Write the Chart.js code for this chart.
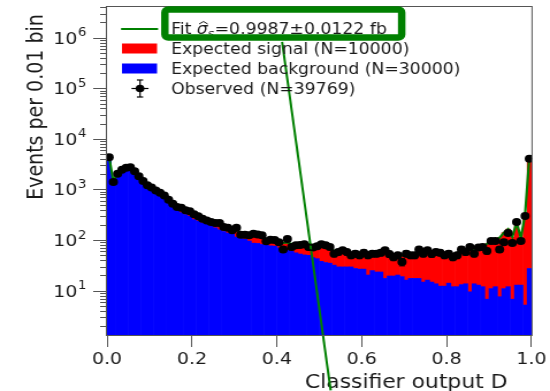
<!DOCTYPE html>
<html>
<head>
<meta charset="utf-8">
<script src="https://cdn.jsdelivr.net/npm/chart.js@4.4.0/dist/chart.umd.min.js"></script>
<style>
  html, body { margin: 0; padding: 0; background: #fff; overflow: hidden; }
  /* the original figure is stretched sideways, so draw narrower and stretch */
  #wrap { position: absolute; left: 0; top: 0; width: 478px; height: 391px;
          transform: scaleX(1.1506); transform-origin: 0 0; }
</style>
</head>
<body>
<div id="wrap"><canvas id="chart"></canvas></div>
<script>
// histogram: 100 bins of width 0.01 over classifier output D
var binWidth = 0.01;
var nBins = 100;

var observed = [
  4360,1400,2050,2460,2700,2760,2300,1820,1470,1210,
  1090,955,860,760,630,525,450,435,387,370,
  323,295,264,245,227,217,217,181,176,156,
  176,128,128,124,134,129,124,95,102,100,
  91,65,105,73,79,80,83,73,71,76,
  83,79,73,54,58,63,58,50,54,50,
  56,50,54,54,56,63,53,46,50,37,
  54,50,50,65,54,63,53,58,56,50,
  54,46,50,65,58,73,54,71,73,61,
  96,96,65,91,138,88,227,96,299,4070
];

var expBackground = [
  4150,1400,1980,2380,2620,2620,2220,1780,1420,1180,
  1040,915,815,715,600,500,410,350,320,295,
  255,238,220,205,190,175,160,148,138,130,
  115,108,104,96,87,86,82,79,77,76,
  70,66,63,60,56,53,51,50,45,43,
  38,36,35,32,29.5,29.5,29.5,29.5,27.5,26.7,
  26.7,20.4,25,23.4,23.4,17.5,19.5,19.5,20.4,19,
  16.2,17.5,17.5,17.5,14.8,16.2,14.8,13.7,12.3,12.3,
  14.1,12,12,13.2,13.7,9.5,13.7,12.9,12,6.8,
  11,12,7.6,11,12,6.8,12.9,12.9,5.2,27.5
];

var expSignal = [
  150,50,70,70,80,80,80,70,60,50,
  50,45,45,45,40,40,55,80,70,65,
  70,57,48,43,38,40,45,40,38,33,
  43,32,28,30,41,39,36,27,27,22,
  24,22,27,24,24,27,28,26,29,32,
  38,39,35,30,31.5,30.5,28.5,24.5,27.5,26.3,
  27.3,31.6,29,30.6,31.6,38.5,33.5,32.5,31.6,31,
  35.8,36.5,37.5,40.5,41.2,41.8,41.2,44.3,44.7,42.7,
  45.9,40,44,50.8,48.3,56.5,48.3,57.1,61,77.2,
  87,88,104.4,129,153,108.2,212.1,97.1,314.8,4272.5
];

var fitTotal = [
  4300,1450,2050,2450,2700,2700,2300,1850,1480,1230,
  1090,960,860,760,640,540,465,430,390,360,
  325,295,268,248,228,215,205,188,176,163,
  158,140,132,126,128,125,118,106,104,98,
  94,88,90,84,80,80,79,76,74,75,
  76,75,70,62,61,60,58,54,55,53,
  54,52,54,54,55,56,53,52,52,50,
  52,54,55,58,56,58,56,58,57,55,
  60,52,56,64,62,66,62,70,73,84,
  98,100,112,140,165,115,225,110,320,4300
];

// stray green stroke running down from the highlight box
var strayX = [0.4126, 0.527];
var strayY = [8.3e5, 0.107];

var xTickValues = [0, 0.2, 0.4, 0.6, 0.8, 1.0];
var yDecades = [1, 2, 3, 4, 5, 6];
var yMin = 1.332, yMax = 4.23e6;

var fitSigma = '0.9987', fitSigmaErr = '0.0122';
var labelSignal = 'Expected signal (N=10000)';
var labelBackground = 'Expected background (N=30000)';
var labelObserved = 'Observed (N=39769)';

var FONT = '"DejaVu Sans", sans-serif';
var TEXT = '#1a1a1a';
var AXIS = '#555';
var GREEN = 'rgb(0,128,0)';

var binCenters = [];
for (var i = 0; i < nBins; i++) binCenters.push((i + 0.5) * binWidth);

function pts(vals) {
  return vals.map(function (v, i) { return { x: binCenters[i], y: v }; });
}

function seg(ctx, x1, y1, x2, y2) {
  ctx.beginPath(); ctx.moveTo(x1, y1); ctx.lineTo(x2, y2); ctx.stroke();
}

var decor = {
  id: 'decor',
  beforeDatasetsDraw: function (chart) {
    var ctx = chart.ctx, a = chart.chartArea, ys = chart.scales.y;
    ctx.save();
    ctx.strokeStyle = AXIS; ctx.lineWidth = 1;
    // log ticks, major and minor
    for (var e = 0; e <= 7; e++) {
      for (var m = 1; m <= 9; m++) {
        var v = m * Math.pow(10, e);
        if (v < ys.min || v > ys.max) continue;
        var py = Math.round(ys.getPixelForValue(v)) + 0.5;
        seg(ctx, a.left - (m === 1 ? 12 : 6), py, a.left, py);
      }
    }
    // decade labels as 10^n
    ctx.fillStyle = TEXT;
    ctx.textBaseline = 'alphabetic';
    yDecades.forEach(function (d) {
      var py = ys.getPixelForValue(Math.pow(10, d));
      var right = a.left - 18;
      ctx.font = '11.5px ' + FONT;
      var ew = ctx.measureText(String(d)).width;
      ctx.textAlign = 'left';
      ctx.fillText(String(d), right - ew, py - 1.5);
      ctx.font = '16.5px ' + FONT;
      ctx.textAlign = 'right';
      ctx.fillText('10', right - ew - 0.5, py + 6);
    });
    // axis titles
    ctx.font = '19px ' + FONT;
    ctx.textAlign = 'center';
    ctx.fillText('Classifier output D', 353, 388);
    ctx.translate(36.5, 107);
    ctx.rotate(-Math.PI / 2);
    ctx.fillText('Events per 0.01 bin', 0, 0);
    ctx.restore();
  },
  afterDatasetsDraw: function (chart) {
    var ctx = chart.ctx, a = chart.chartArea, xs = chart.scales.x, ys = chart.scales.y;
    ctx.save();
    // poisson error bars on the observed points
    ctx.strokeStyle = '#000'; ctx.lineWidth = 1;
    observed.forEach(function (n, i) {
      var px = xs.getPixelForValue(binCenters[i]);
      var e = Math.sqrt(n);
      var y1 = ys.getPixelForValue(n - e), y2 = ys.getPixelForValue(n + e);
      seg(ctx, px, y1, px, y2);
      seg(ctx, px - 2.5, y1, px + 2.5, y1);
      seg(ctx, px - 2.5, y2, px + 2.5, y2);
    });
    // frame
    ctx.strokeStyle = AXIS;
    ctx.strokeRect(a.left - 0.5, a.top + 0.5, a.right - a.left + 1, a.bottom - a.top);
    ctx.restore();
  },
  afterDraw: function (chart) {
    var ctx = chart.ctx;
    ctx.save();
    ctx.fillStyle = TEXT;
    ctx.textAlign = 'left';
    ctx.textBaseline = 'alphabetic';
    var tx = 148.7;
    // fit entry
    ctx.strokeStyle = GREEN; ctx.lineWidth = 2;
    seg(ctx, 105.2, 29, 137.4, 29);
    ctx.font = '15px ' + FONT;
    ctx.fillText('Fit ', tx, 34);
    var x = tx + ctx.measureText('Fit ').width;
    ctx.font = 'italic 15px ' + FONT;
    ctx.fillText('\u03c3', x, 34);
    var sw = ctx.measureText('\u03c3').width;
    ctx.strokeStyle = TEXT; ctx.lineWidth = 1;
    ctx.beginPath();
    ctx.moveTo(x + 2, 24); ctx.lineTo(x + sw / 2 + 1, 21.5); ctx.lineTo(x + sw, 24);
    ctx.stroke();
    x += sw;
    ctx.font = 'italic 10.5px ' + FONT;
    ctx.fillText('s', x, 37);
    x += ctx.measureText('s').width + 0.5;
    ctx.font = '15px ' + FONT;
    ctx.fillText('=' + fitSigma + '\u00b1' + fitSigmaErr + ' fb', x, 34);
    // signal / background patches
    ctx.fillStyle = '#ff0000'; ctx.fillRect(106, 43.5, 30.5, 10);
    ctx.fillStyle = '#0000ff'; ctx.fillRect(106, 63.5, 30.5, 10);
    ctx.fillStyle = TEXT;
    ctx.fillText(labelSignal, tx, 54);
    ctx.fillText(labelBackground, tx, 74);
    ctx.fillText(labelObserved, tx, 94);
    // observed marker with error bars
    ctx.strokeStyle = '#000'; ctx.lineWidth = 1.2;
    seg(ctx, 114.3, 88.5, 129.1, 88.5);
    seg(ctx, 121.7, 80, 121.7, 97);
    seg(ctx, 119, 80, 124.4, 80);
    seg(ctx, 119, 97, 124.4, 97);
    ctx.fillStyle = '#000';
    ctx.beginPath(); ctx.arc(121.7, 88.5, 3.8, 0, Math.PI * 2); ctx.fill();
    // green highlight box round the fit entry
    ctx.strokeStyle = GREEN; ctx.lineWidth = 6.5;
    ctx.beginPath();
    ctx.roundRect(143.3, 9.4, 205.8, 28.2, 3);
    ctx.stroke();
    ctx.restore();
  }
};

Chart.defaults.font.family = FONT;
Chart.defaults.color = TEXT;

new Chart(document.getElementById('chart'), {
  type: 'bar',
  data: {
    datasets: [
      {
        label: labelBackground,
        data: pts(expBackground),
        backgroundColor: '#0000ff',
        borderWidth: 0,
        grouped: false,
        barPercentage: 1,
        categoryPercentage: 1,
        order: 3
      },
      {
        label: labelSignal,
        data: pts(expSignal),
        backgroundColor: '#ff0000',
        borderWidth: 0,
        grouped: false,
        barPercentage: 1,
        categoryPercentage: 1,
        order: 3
      },
      {
        type: 'line',
        label: 'Fit',
        stack: 'fit',
        data: pts(fitTotal),
        borderColor: GREEN,
        borderWidth: 2.2,
        pointRadius: 0,
        order: 2
      },
      {
        type: 'line',
        label: labelObserved,
        stack: 'obs',
        data: pts(observed),
        showLine: false,
        pointRadius: 4,
        pointBackgroundColor: '#000',
        pointBorderColor: '#000',
        pointBorderWidth: 0,
        order: 1
      },
      {
        type: 'line',
        label: 'stray',
        stack: 'stray',
        data: strayX.map(function (v, i) { return { x: v, y: strayY[i] }; }),
        borderColor: GREEN,
        borderWidth: 2,
        pointRadius: 0,
        clip: false,
        order: 0
      }
    ]
  },
  options: {
    responsive: true,
    maintainAspectRatio: false,
    animation: false,
    events: [],
    layout: { padding: { top: 6, right: 14, left: 0, bottom: 0 } },
    plugins: { legend: { display: false }, tooltip: { enabled: false } },
    scales: {
      x: {
        type: 'linear',
        min: 0,
        max: 1,
        offset: false,
        afterBuildTicks: function (s) {
          s.ticks = xTickValues.map(function (v) { return { value: v }; });
        },
        afterFit: function (s) { s.height = 56; },
        grid: { offset: false, drawOnChartArea: false, drawTicks: true, tickLength: 12, color: AXIS, lineWidth: 1 },
        border: { display: false },
        ticks: {
          padding: 3,
          maxRotation: 0,
          autoSkip: false,
          color: TEXT,
          font: { size: 16.5 },
          callback: function (v) { return Number(v).toFixed(1); }
        }
      },
      y: {
        type: 'logarithmic',
        stacked: true,
        min: yMin,
        max: yMax,
        afterFit: function (s) { s.width = 93; },
        grid: { display: false },
        border: { display: false },
        ticks: { display: false }
      }
    }
  },
  plugins: [decor]
});
</script>
</body>
</html>
